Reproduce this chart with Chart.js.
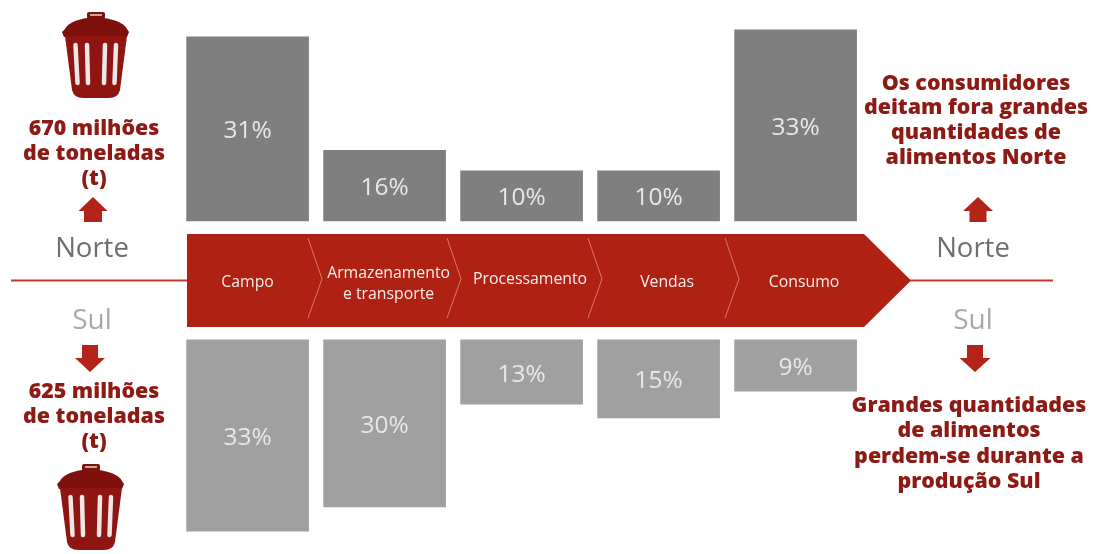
<!DOCTYPE html>
<html>
<head>
<meta charset="utf-8">
<style>
  html, body { margin: 0; padding: 0; background: #fff; overflow: hidden; }
  #wrap { width: 1093px; height: 554px; position: relative; }
  canvas { filter: blur(0.4px); }
</style>
<script src="https://cdn.jsdelivr.net/npm/chart.js@4"></script>
</head>
<body>
<div id="wrap"><canvas id="chart" width="1093" height="554"></canvas></div>
<script>
// =================== DATA ===================
const categories = [['Campo'], ['Armazenamento', 'e transporte'], ['Processamento'], ['Vendas'], ['Consumo']];
const northLabels = ['31%', '16%', '10%', '10%', '33%'];
const southLabels = ['33%', '30%', '13%', '15%', '9%'];
// the bars in the picture are not quite to scale, so these are the lengths read off it
const northLengths = [31.2, 12, 8.5, 8.5, 32.4];
const southLengths = [32.4, 28.3, 10.9, 13.2, 8.7];

// =================== LAYOUT ===================
const BAND_GAP = 10.08;   // distance of the bars from the centre line, in axis units
const RED = '#ae2113';
const DARK_RED = '#8e1a15';
const LINE_RED = '#c4362c';
const TEXT_BOLD = '800 21.4px "Open Sans"';
const bandSeparators = [[308, 322], [447, 461], [588, 602], [725, 739]];
const labelShift = [0, 4, 8.5, 8.5, 8.5];

function drawTrash(ctx, x, y, s) {
  ctx.save();
  ctx.translate(x, y);
  ctx.scale(s, s);
  ctx.fillStyle = '#7e100e';
  // handle
  ctx.beginPath();
  ctx.roundRect(25, 0, 18, 7, 2);
  ctx.fill();
  ctx.fillStyle = '#c9a5a2';
  ctx.fillRect(28, 2, 12, 2);
  // lid
  ctx.fillStyle = '#7e100e';
  ctx.beginPath();
  ctx.moveTo(3, 17);
  ctx.quadraticCurveTo(8, 7, 33, 5);
  ctx.quadraticCurveTo(60, 7, 65, 17);
  ctx.lineTo(67, 20);
  ctx.lineTo(65, 25);
  ctx.lineTo(2, 25);
  ctx.lineTo(0, 20);
  ctx.closePath();
  ctx.fill();
  // body
  ctx.fillStyle = '#8e1512';
  ctx.beginPath();
  ctx.moveTo(3, 24);
  ctx.lineTo(65, 24);
  ctx.lineTo(58, 78);
  ctx.quadraticCurveTo(56, 86, 47, 86);
  ctx.lineTo(21, 86);
  ctx.quadraticCurveTo(12, 86, 10, 78);
  ctx.closePath();
  ctx.fill();
  // slots
  ctx.strokeStyle = '#ece8e6';
  ctx.lineCap = 'round';
  ctx.lineWidth = 4.5;
  [[13.5, 15.5], [25, 26], [43, 42], [54, 52.5]].forEach(([a, b]) => {
    ctx.beginPath();
    ctx.moveTo(a, 33);
    ctx.lineTo(b, 71);
    ctx.stroke();
  });
  ctx.restore();
}

function drawBlockArrow(ctx, cx, tipY, headY, endY, headW, shaftW) {
  ctx.fillStyle = '#b32317';
  ctx.beginPath();
  ctx.moveTo(cx, tipY);
  ctx.lineTo(cx + headW / 2, headY);
  ctx.lineTo(cx + shaftW / 2, headY);
  ctx.lineTo(cx + shaftW / 2, endY);
  ctx.lineTo(cx - shaftW / 2, endY);
  ctx.lineTo(cx - shaftW / 2, headY);
  ctx.lineTo(cx - headW / 2, headY);
  ctx.closePath();
  ctx.fill();
}

function drawLines(ctx, lines, cx, ys, font, color) {
  ctx.font = font;
  ctx.fillStyle = color;
  ctx.textAlign = 'center';
  ctx.textBaseline = 'middle';
  lines.forEach((t, i) => ctx.fillText(t, cx, ys[i]));
}

// =================== PLUGINS ===================
const flowPlugin = {
  id: 'flow',
  afterDraw(chart) {
    const ctx = chart.ctx;
    const xs = chart.scales.x;
    ctx.save();

    // centre line
    ctx.strokeStyle = LINE_RED;
    ctx.lineWidth = 2;
    ctx.beginPath();
    ctx.moveTo(11, 280.5);
    ctx.lineTo(1053, 280.5);
    ctx.stroke();

    // red arrow band
    ctx.fillStyle = RED;
    ctx.beginPath();
    ctx.moveTo(187, 234);
    ctx.lineTo(864, 234);
    ctx.lineTo(911, 280.5);
    ctx.lineTo(864, 327);
    ctx.lineTo(187, 327);
    ctx.closePath();
    ctx.fill();

    // chevrons between the stages
    ctx.strokeStyle = 'rgba(255,190,170,0.55)';
    ctx.lineWidth = 1;
    bandSeparators.forEach(([a, b]) => {
      ctx.beginPath();
      ctx.moveTo(a, 238);
      ctx.lineTo(b, 279);
      ctx.lineTo(a, 318);
      ctx.stroke();
    });

    // stage names
    categories.forEach((lines, i) => {
      const cx = xs.getPixelForValue(i) + labelShift[i];
      const ys = lines.length === 2 ? [273, 294] : [i === 2 ? 279 : 282];
      drawLines(ctx, lines, cx, ys, '15.8px "Open Sans"', '#fbeeea');
    });

    // percentages on the bars
    [northLabels, southLabels].forEach((labels, d) => {
      chart.getDatasetMeta(d).data.forEach((bar, i) => {
        const p = bar.getCenterPoint();
        drawLines(ctx, [labels[i]], p.x, [p.y + 2.5], '24.5px "Open Sans"', '#e8e8e8');
      });
    });

    // left column
    drawTrash(ctx, 62, 12, 1);
    drawTrash(ctx, 57, 464, 1);
    drawLines(ctx, ['670 milhões', 'de toneladas', '(t)'], 94, [129, 154, 179], TEXT_BOLD, DARK_RED);
    drawLines(ctx, ['625 milhões', 'de toneladas', '(t)'], 94, [392, 417, 442], TEXT_BOLD, DARK_RED);
    drawBlockArrow(ctx, 93, 197, 211, 222, 29, 18);
    drawBlockArrow(ctx, 90, 372, 358, 345, 30, 16);
    drawLines(ctx, ['Norte'], 92, [249], '27.5px "Open Sans"', '#6d6e71');
    drawLines(ctx, ['Sul'], 92, [321], '28px "Open Sans"', '#a7a9ac');

    // right column
    drawLines(ctx, ['Os consumidores', 'deitam fora grandes', 'quantidades de', 'alimentos Norte'],
      976, [84, 108, 133, 158], TEXT_BOLD, DARK_RED);
    drawLines(ctx, ['Grandes quantidades', 'de alimentos', 'perdem-se durante a', 'produção Sul'],
      969, [406, 431, 457, 482], TEXT_BOLD, DARK_RED);
    drawBlockArrow(ctx, 978, 197, 211, 222, 30, 17);
    drawBlockArrow(ctx, 975, 372, 358, 345, 31, 16);
    drawLines(ctx, ['Norte'], 973, [249], '27.5px "Open Sans"', '#6d6e71');
    drawLines(ctx, ['Sul'], 973, [321], '28px "Open Sans"', '#a7a9ac');

    ctx.restore();
  }
};

// =================== CHART ===================
new Chart(document.getElementById('chart'), {
  type: 'bar',
  data: {
    labels: categories.map(c => c.join(' ')),
    datasets: [
      {
        label: 'Norte',
        data: northLengths.map(v => [BAND_GAP, BAND_GAP + v]),
        backgroundColor: '#7f7f7f',
        barThickness: 122,
        grouped: false
      },
      {
        label: 'Sul',
        data: southLengths.map(v => [-BAND_GAP, -BAND_GAP - v]),
        backgroundColor: '#a0a0a0',
        barThickness: 122,
        grouped: false
      }
    ]
  },
  options: {
    responsive: false,
    animation: false,
    layout: { padding: { left: 179.1, right: 228.9, top: 0, bottom: 0 } },
    plugins: { legend: { display: false }, tooltip: { enabled: false } },
    scales: {
      x: { display: false },
      y: { display: false, min: -46.36, max: 47.54 }
    }
  },
  plugins: [flowPlugin]
});
</script>
</body>
</html>
